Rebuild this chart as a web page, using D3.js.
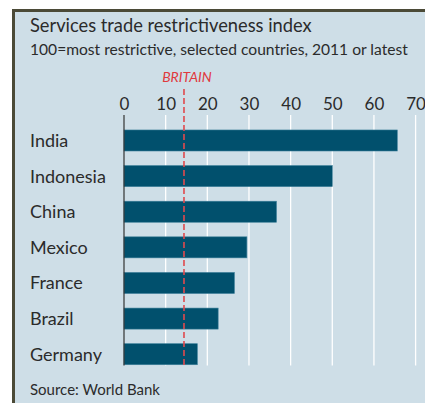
<!DOCTYPE html>
<html>
<head>
<meta charset="utf-8">
<script src="https://cdn.jsdelivr.net/npm/d3@7"></script>
<style>
  html, body { margin: 0; padding: 0; background: #ffffff; }
  svg { display: block; }
  text { font-family: Lato, "Open Sans", sans-serif; fill: #2b2b2b; }
</style>
</head>
<body>
<svg id="chart" width="425" height="403"></svg>
<script>
// Services trade restrictiveness index, 100 = most restrictive
const countries = ["India", "Indonesia", "China", "Mexico", "France", "Brazil", "Germany"];
const scores = [65.6, 50.0, 36.6, 29.5, 26.5, 22.6, 17.6];
const tickValues = [0, 10, 20, 30, 40, 50, 60, 70];
const britainScore = 14.4;

const titleText = "Services trade restrictiveness index";
const subtitleText = "100=most restrictive, selected countries, 2011 or latest";
const sourceText = "Source: World Bank";

const W = 425, H = 403;
const svg = d3.select("#chart");

// panel frame: dark rule on top and left, pale blue fill
svg.append("rect").attr("x", 12).attr("y", 9).attr("width", W - 12).attr("height", H - 9)
  .attr("fill", "#4b4a37");
svg.append("rect").attr("x", 15).attr("y", 12).attr("width", W - 15).attr("height", H - 12)
  .attr("fill", "#cedee7");

svg.append("text").attr("x", 30).attr("y", 32).attr("font-size", 18.3).text(titleText);
svg.append("text").attr("x", 30).attr("y", 55).attr("font-size", 15.6).text(subtitleText);

const x = d3.scaleLinear().domain([0, 70]).range([124, 415.6]);
const y = d3.scaleBand().domain(countries).range([122.5, 372.2]).paddingInner(0.41).paddingOuter(0.21);

const plotTop = 115, plotBottom = 365.5;

// white vertical gridlines
svg.append("g").selectAll("line").data(tickValues.filter(d => d > 0)).join("line")
  .attr("x1", d => x(d)).attr("x2", d => x(d))
  .attr("y1", plotTop).attr("y2", plotBottom)
  .attr("stroke", "#ffffff").attr("stroke-width", 1.3);

// axis labels along the top
const axis = d3.axisTop(x).tickValues(tickValues).tickSize(0).tickPadding(0);
const gAxis = svg.append("g").attr("transform", `translate(0,110)`).call(axis);
gAxis.select(".domain").remove();
gAxis.selectAll("text").attr("font-size", 17).attr("fill", "#2b2b2b")
  .attr("font-family", "Lato, 'Open Sans', sans-serif").attr("dy", 0);

// bars
svg.append("g").selectAll("rect").data(countries).join("rect")
  .attr("x", x(0))
  .attr("y", d => y(d))
  .attr("width", (d, i) => x(scores[i]) - x(0))
  .attr("height", y.bandwidth())
  .attr("fill", "#01506d")
  .attr("stroke", "#3a7d98").attr("stroke-width", 0.6);

// zero line
svg.append("line").attr("x1", x(0)).attr("x2", x(0)).attr("y1", plotTop).attr("y2", plotBottom)
  .attr("stroke", "#333").attr("stroke-width", 1.2);

// category labels
svg.append("g").selectAll("text").data(countries).join("text")
  .attr("x", 30)
  .attr("y", d => y(d) + y.bandwidth() / 2 + 6.5)
  .attr("font-size", 18)
  .text(d => d);

// Britain reference line
svg.append("line").attr("x1", x(britainScore)).attr("x2", x(britainScore))
  .attr("y1", 89).attr("y2", plotBottom)
  .attr("stroke", "#e04a4e").attr("stroke-width", 1.6).attr("stroke-dasharray", "6,3");
svg.append("text").attr("x", x(britainScore) + 3).attr("y", 82).attr("text-anchor", "middle")
  .attr("font-size", 14).attr("font-style", "italic").style("fill", "#e0393e").text("BRITAIN");

svg.append("text").attr("x", 30).attr("y", 395).attr("font-size", 15).text(sourceText);
</script>
</body>
</html>
